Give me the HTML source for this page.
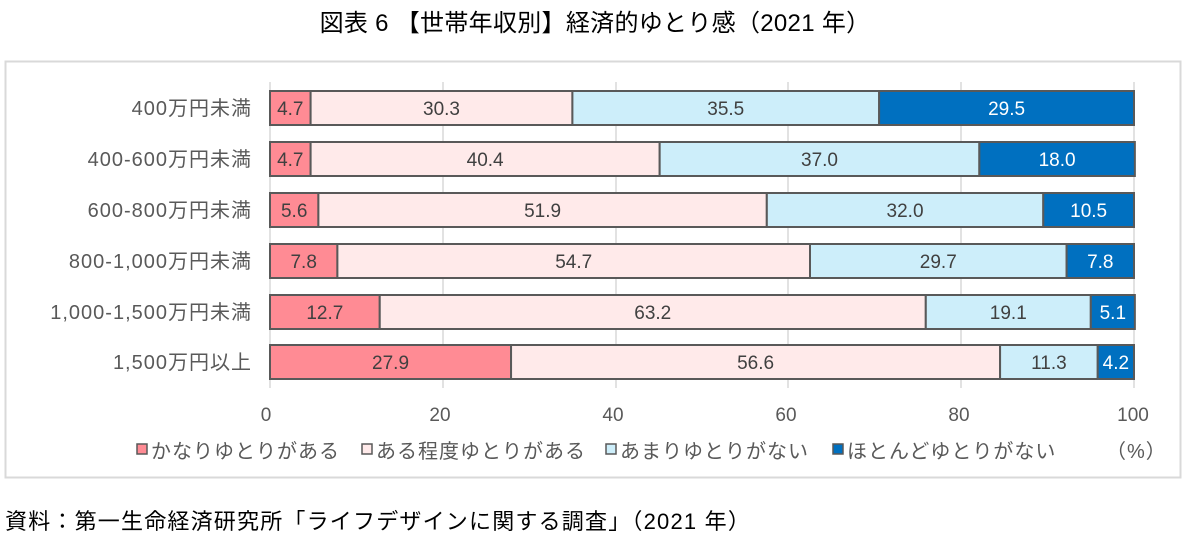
<!DOCTYPE html>
<html><head><meta charset="utf-8"><style>
body{margin:0;background:#fff;width:1190px;height:535px;overflow:hidden}
text{font-family:"Liberation Sans","Noto Sans CJK JP",sans-serif}
</style></head><body>
<svg width="1190" height="535" xmlns="http://www.w3.org/2000/svg">
<text x="595" y="31" font-size="24" letter-spacing="0.3" text-anchor="middle" fill="#000">図表 6 【世帯年収別】経済的ゆとり感（2021 年）</text>
<rect x="5.5" y="61.5" width="1175" height="416" fill="#fff" stroke="#d9d9d9" stroke-width="2"/>
<g stroke="#d9d9d9" stroke-width="1.5">
<line x1="443" y1="82" x2="443" y2="388"/><line x1="616" y1="82" x2="616" y2="388"/>
<line x1="788" y1="82" x2="788" y2="388"/><line x1="961" y1="82" x2="961" y2="388"/>
<line x1="1134" y1="82" x2="1134" y2="388"/><line x1="270" y1="82" x2="270" y2="388"/>
</g>
<g id="bars" stroke="#595959" stroke-width="2" font-size="19" text-anchor="middle"></g>
<g font-size="20" fill="#595959" text-anchor="end" letter-spacing="1">
<text x="252" y="115">400万円未満</text>
<text x="252" y="166">400-600万円未満</text>
<text x="252" y="217">600-800万円未満</text>
<text x="252" y="268">800-1,000万円未満</text>
<text x="252" y="319">1,000-1,500万円未満</text>
<text x="252" y="369">1,500万円以上</text>
</g>
<g font-size="19" fill="#595959" text-anchor="middle">
<text x="266" y="421">0</text><text x="440" y="421">20</text><text x="613" y="421">40</text>
<text x="786" y="421">60</text><text x="959" y="421">80</text><text x="1133" y="421">100</text>
</g>
<g font-size="20" fill="#595959" stroke-width="1.5" letter-spacing="1">
<rect x="137" y="444" width="10" height="10" fill="#ff8b94" stroke="#595959"/><text x="151" y="458">かなりゆとりがある</text>
<rect x="362" y="444" width="10" height="10" fill="#ffeaea" stroke="#595959"/><text x="376" y="458">ある程度ゆとりがある</text>
<rect x="606" y="444" width="10" height="10" fill="#cdeefa" stroke="#595959"/><text x="620" y="458">あまりゆとりがない</text>
<rect x="833" y="444" width="10" height="10" fill="#0070c0" stroke="#595959"/><text x="847" y="458">ほとんどゆとりがない</text>
<text x="1106" y="458">（%）</text>
</g>
<text x="5" y="529" font-size="22" letter-spacing="1.2" fill="#000">資料：第一生命経済研究所「ライフデザインに関する調査」（2021 年）</text>
</svg>
<script>
var d=[[4.7,30.3,35.5,29.5],[4.7,40.4,37.0,18.0],[5.6,51.9,32.0,10.5],[7.8,54.7,29.7,7.8],[12.7,63.2,19.1,5.1],[27.9,56.6,11.3,4.2]];
var c=["#ff8b94","#ffeaea","#cdeefa","#0070c0"],tc=["#404040","#404040","#404040","#fff"];
var g=document.getElementById("bars"),s="",tops=[91,142,193,244,295,345];
d.forEach(function(r,i){var x=0;r.forEach(function(v,j){var x0=270+x*8.64,w=v*8.64,y=tops[i];
s+='<rect x="'+x0+'" y="'+y+'" width="'+w+'" height="34" fill="'+c[j]+'"/>';
s+='<text x="'+(x0+w/2)+'" y="'+(y+24)+'" fill="'+tc[j]+'" stroke="none">'+v.toFixed(1)+'</text>';x+=v;});});
g.innerHTML=s;
</script>
</body></html>
